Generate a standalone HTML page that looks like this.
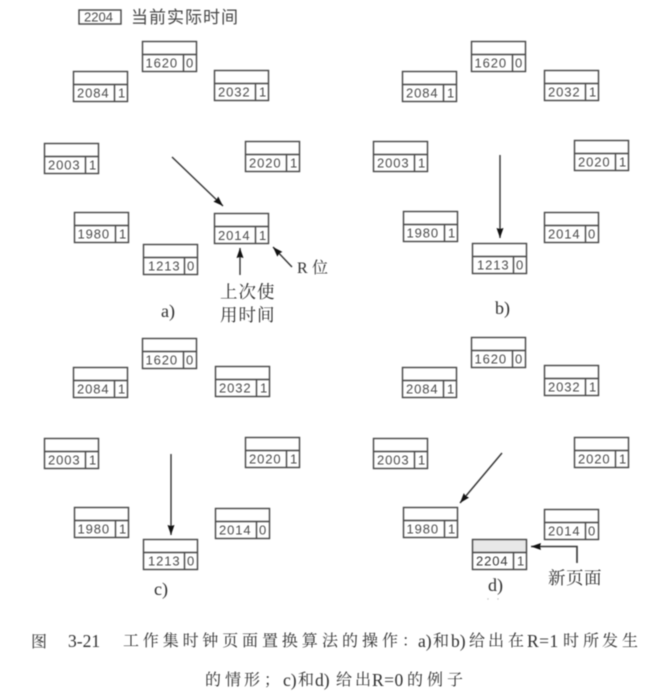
<!DOCTYPE html>
<html><head><meta charset="utf-8"><style>
html,body{margin:0;padding:0;background:#fff;width:648px;height:694px;overflow:hidden}
svg{display:block;filter:blur(.6px)}
.n{font:13px "Liberation Sans",sans-serif;fill:#4a4a4a;letter-spacing:.9px}
.c{font-family:"Liberation Serif","Noto Serif CJK SC",serif;fill:#2e2e2e}
.t{font-family:"Liberation Serif","Noto Serif CJK SC",serif;fill:#2e2e2e;font-size:16px}
.l{font-family:"Liberation Serif",serif;fill:#2e2e2e;font-size:17.5px}
</style></head><body>
<svg width="648" height="694" viewBox="0 0 648 694" xmlns="http://www.w3.org/2000/svg">
<defs>
<g id="b" fill="none" stroke="#444" stroke-width="1.4"><rect x=".5" y=".5" width="54" height="30"/><path d="M.5 13.5H54.5M41.5 13.5V30.5"/></g>
<marker id="ah" markerWidth="10" markerHeight="7" refX="10" refY="3.5" orient="auto" markerUnits="userSpaceOnUse"><path d="M0 0L10 3.5L0 7L1 3.5Z" fill="#111"/></marker>
</defs>
<rect x="79" y="10" width="42" height="14" fill="none" stroke="#444" stroke-width="1.4"/>
<text x="84" y="21.5" class="n" style="letter-spacing:0">2204</text>
<text x="131 149 167 185 203 221" y="23" font-size="17" style="font-family:'Noto Sans CJK SC',sans-serif" fill="#444">当前实际时间</text>
<!-- a -->
<use href="#b" x="142" y="41"/><text x="145.500" y="67.5" class="n">1620</text><text x="186" y="67.5" class="n">0</text>
<use href="#b" x="73" y="71"/><text x="77" y="97.5" class="n">2084</text><text x="118" y="97.5" class="n">1</text>
<use href="#b" x="214" y="70"/><text x="218" y="96.5" class="n">2032</text><text x="259" y="96.5" class="n">1</text>
<use href="#b" x="44" y="143"/><text x="48" y="169.5" class="n">2003</text><text x="89" y="169.5" class="n">1</text>
<use href="#b" x="245" y="141"/><text x="249" y="167.5" class="n">2020</text><text x="290" y="167.5" class="n">1</text>
<use href="#b" x="74" y="212"/><text x="77.500" y="238.5" class="n">1980</text><text x="119" y="238.5" class="n">1</text>
<use href="#b" x="214" y="213"/><text x="218" y="240" class="n">2014</text><text x="259" y="240" class="n">1</text>
<use href="#b" x="143" y="244"/><text x="148" y="270.5" class="n">1213</text><text x="187" y="270.5" class="n">0</text>
<path d="M172 157L223 206" stroke="#333" stroke-width="1.4" marker-end="url(#ah)"/>
<path d="M240 275V248" stroke="#333" stroke-width="1.4" marker-end="url(#ah)"/>
<path d="M292 267L273 247" stroke="#333" stroke-width="1.4" marker-end="url(#ah)"/>
<text x="297" y="273" class="c" font-size="16">R</text>
<text x="312" y="273" class="c" font-size="16">位</text>
<text x="220 238.500 257" y="298" class="c" font-size="17.500">上次使</text>
<text x="220 238.500 257" y="321" class="c" font-size="17.500">用时间</text>
<text x="161" y="317" class="c" font-size="18">a)</text>
<!-- b -->
<use href="#b" x="471" y="41"/><text x="474.500" y="67.5" class="n">1620</text><text x="515" y="67.5" class="n">0</text>
<use href="#b" x="402" y="71"/><text x="406" y="97.5" class="n">2084</text><text x="447" y="97.5" class="n">1</text>
<use href="#b" x="544" y="70"/><text x="548" y="96.5" class="n">2032</text><text x="589" y="96.5" class="n">1</text>
<use href="#b" x="373" y="141"/><text x="377" y="167.5" class="n">2003</text><text x="418" y="167.5" class="n">1</text>
<use href="#b" x="574" y="140"/><text x="578" y="166.5" class="n">2020</text><text x="619" y="166.5" class="n">1</text>
<use href="#b" x="403" y="211"/><text x="406.500" y="237.5" class="n">1980</text><text x="448" y="237.5" class="n">1</text>
<use href="#b" x="544" y="212"/><text x="548" y="238.5" class="n">2014</text><text x="588" y="238.5" class="n">0</text>
<use href="#b" x="472" y="243"/><text x="477" y="269.5" class="n">1213</text><text x="516" y="269.5" class="n">0</text>
<path d="M500 155V238" stroke="#333" stroke-width="1.4" marker-end="url(#ah)"/>
<text x="495" y="314" class="c" font-size="18">b)</text>
<!-- c -->
<use href="#b" x="142" y="338"/><text x="145.500" y="364.5" class="n">1620</text><text x="186" y="364.5" class="n">0</text>
<use href="#b" x="73" y="367"/><text x="77" y="393.5" class="n">2084</text><text x="118" y="393.5" class="n">1</text>
<use href="#b" x="215" y="366"/><text x="219" y="392.5" class="n">2032</text><text x="260" y="392.5" class="n">1</text>
<use href="#b" x="44" y="438"/><text x="48" y="464.5" class="n">2003</text><text x="89" y="464.5" class="n">1</text>
<use href="#b" x="245" y="437"/><text x="249" y="463.5" class="n">2020</text><text x="290" y="463.5" class="n">1</text>
<use href="#b" x="74" y="507"/><text x="77.500" y="533.5" class="n">1980</text><text x="119" y="533.5" class="n">1</text>
<use href="#b" x="215" y="508"/><text x="219" y="534.5" class="n">2014</text><text x="259" y="534.5" class="n">0</text>
<use href="#b" x="143" y="539"/><text x="148" y="565.5" class="n">1213</text><text x="187" y="565.5" class="n">0</text>
<path d="M171 454V535" stroke="#333" stroke-width="1.4" marker-end="url(#ah)"/>
<text x="154" y="595" class="c" font-size="18">c)</text>
<!-- d -->
<rect x="472" y="539" width="55" height="14" fill="#e8e8e8"/>
<use href="#b" x="471" y="337"/><text x="474.500" y="363.5" class="n">1620</text><text x="515" y="363.5" class="n">0</text>
<use href="#b" x="402" y="367"/><text x="406" y="393.5" class="n">2084</text><text x="447" y="393.5" class="n">1</text>
<use href="#b" x="544" y="365"/><text x="548" y="391.5" class="n">2032</text><text x="589" y="391.5" class="n">1</text>
<use href="#b" x="373" y="438"/><text x="377" y="464.5" class="n">2003</text><text x="418" y="464.5" class="n">1</text>
<use href="#b" x="574" y="437"/><text x="578" y="463.5" class="n">2020</text><text x="619" y="463.5" class="n">1</text>
<use href="#b" x="403" y="507"/><text x="406.500" y="533.5" class="n">1980</text><text x="448" y="533.5" class="n">1</text>
<use href="#b" x="544" y="509"/><text x="548" y="535.5" class="n">2014</text><text x="588" y="535.5" class="n">0</text>
<use href="#b" x="472" y="539"/><text x="476" y="565.5" class="n" style="fill:#333">2204</text><text x="517" y="565.5" class="n">1</text>
<path d="M502 453L460 503" stroke="#333" stroke-width="1.4" marker-end="url(#ah)"/>
<path d="M577 563V546.500H531" fill="none" stroke="#333" stroke-width="1.6" marker-end="url(#ah)"/>
<text x="548 566 584" y="584" class="c" font-size="17.500">新页面</text>
<text x="488" y="591" class="c" font-size="18">d)</text>
<circle cx="488" cy="599" r=".7" fill="#bbb"/><circle cx="498" cy="599" r=".7" fill="#bbb"/>
<!-- caption -->
<text x="31" y="647" class="t">图</text>
<text x="68" y="647" class="l">3-21</text>
<text x="123 142.800 162.700 182.600 202.300 222.300 242 262 281.700 301.700 322 342 362 382 402" y="646" class="t">工作集时钟页面置换算法的操作：</text>
<text x="418" y="647" class="l">a)</text>
<text x="433" y="646" class="t">和</text>
<text x="451" y="647" class="l">b)</text>
<text x="469 488 508" y="646" class="t">给出在</text>
<text x="527" y="647" class="l" style="letter-spacing:.5px">R=1</text>
<text x="563 583 602 622" y="646" class="t">时所发生</text>
<text x="205 225 244 264" y="685" class="t">的情形；</text>
<text x="283" y="686" class="l">c)</text>
<text x="298" y="685" class="t">和</text>
<text x="315" y="686" class="l">d)</text>
<text x="336 355" y="685" class="t">给出</text>
<text x="372" y="686" class="l" style="letter-spacing:.5px">R=0</text>
<text x="407 427 447" y="685" class="t">的例子</text>
</svg>
</body></html>
